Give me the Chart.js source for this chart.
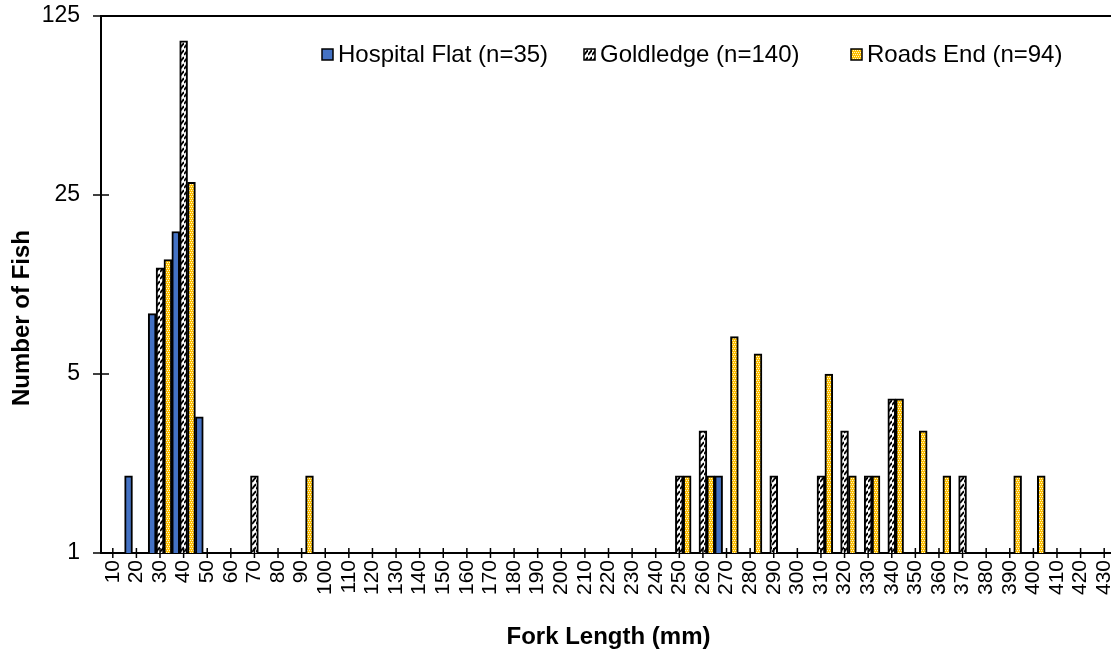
<!DOCTYPE html>
<html>
<head>
<meta charset="utf-8">
<script src="https://cdn.jsdelivr.net/npm/chart.js@4"></script>
<style>
  html, body { margin: 0; padding: 0; background: #fff; overflow: hidden; }
  #wrap { width: 1116px; height: 655px; position: relative; }
</style>
</head>
<body>
<div id="wrap"><canvas id="fishChart"></canvas></div>
<script>
const n = null;

const forkLengths = [10, 20, 30, 40, 50, 60, 70, 80, 90, 100,
  110, 120, 130, 140, 150, 160, 170, 180, 190, 200,
  210, 220, 230, 240, 250, 260, 270, 280, 290, 300,
  310, 320, 330, 340, 350, 360, 370, 380, 390, 400,
  410, 420, 430];

const hospitalFlat = [n, 2, 8.6, 18, 3.4, n, n, n, n, n,
  n, n, n, n, n, n, n, n, n, n,
  n, n, n, n, n, n, 2, n, n, n,
  n, n, n, n, n, n, n, n, n, n,
  n, n, n];

const goldledge = [n, n, 13, 100, n, n, 2, n, n, n,
  n, n, n, n, n, n, n, n, n, n,
  n, n, n, n, 2, 3, n, n, 2, n,
  2, 3, 2, 4, n, n, 2, n, n, n,
  n, n, n];

const roadsEnd = [n, n, 14, 28, n, n, n, n, 2, n,
  n, n, n, n, n, n, n, n, n, n,
  n, n, n, n, 2, 2, 7, 6, n, n,
  5, 2, 2, 4, 3, 2, n, n, 2, 2,
  n, n, n];

const seriesNames = ['Hospital Flat (n=35)', 'Goldledge (n=140)', 'Roads End (n=94)'];
const yTicks = [1, 5, 25, 125];

const FONT = "'Liberation Sans', Arial, sans-serif";

// fill patterns like the Excel ones
function hatchPattern() {
  const c = document.createElement('canvas');
  c.width = 4; c.height = 7;
  const g = c.getContext('2d');
  g.fillStyle = '#fff';
  g.fillRect(0, 0, 4, 7);
  g.strokeStyle = '#000';
  g.lineWidth = 2;
  g.beginPath();
  g.moveTo(0, 6); g.lineTo(4, 1);
  g.stroke();
  return g.createPattern(c, 'repeat');
}

function dotPattern() {
  const c = document.createElement('canvas');
  c.width = 4; c.height = 4;
  const g = c.getContext('2d');
  g.fillStyle = '#FFC000';
  g.fillRect(0, 0, 4, 4);
  g.fillStyle = '#FFF4CC';
  [[0, 0], [2, 0], [1, 2], [3, 2]].forEach(([px, py]) => g.fillRect(px, py, 1, 1));
  return g.createPattern(c, 'repeat');
}

const legendX = [322, 584, 851];

const decorations = {
  id: 'decorations',
  afterDraw(chart) {
    const { ctx, chartArea: a, scales: { x, y } } = chart;
    ctx.save();
    ctx.strokeStyle = '#000';

    // top frame line
    ctx.lineWidth = 2;
    ctx.beginPath();
    ctx.moveTo(a.left, a.top);
    ctx.lineTo(a.right, a.top);
    ctx.stroke();

    // tick marks crossing the axes
    ctx.lineWidth = 1.5;
    y.ticks.forEach((t, i) => {
      const py = y.getPixelForTick(i);
      ctx.beginPath();
      ctx.moveTo(a.left - 8, py);
      ctx.lineTo(a.left + 8, py);
      ctx.stroke();
    });
    x.ticks.forEach((t, i) => {
      const px = x.getPixelForTick(i);
      ctx.beginPath();
      ctx.moveTo(px, a.bottom - 5);
      ctx.lineTo(px, a.bottom + 5);
      ctx.stroke();
    });

    // legend
    ctx.font = '24px ' + FONT;
    ctx.textBaseline = 'middle';
    ctx.textAlign = 'left';
    chart.data.datasets.forEach((ds, i) => {
      const bx = legendX[i];
      ctx.fillStyle = ds.backgroundColor;
      ctx.fillRect(bx, 49, 11, 11);
      ctx.lineWidth = 1.5;
      ctx.strokeRect(bx, 49, 11, 11);
      ctx.fillStyle = '#000';
      ctx.fillText(ds.label, bx + 16, 55);
    });

    // y axis title
    ctx.translate(22, 318);
    ctx.rotate(-Math.PI / 2);
    ctx.font = 'bold 24px ' + FONT;
    ctx.textAlign = 'center';
    ctx.fillText('Number of Fish', 0, 0);
    ctx.restore();
  }
};

document.addEventListener('DOMContentLoaded', () => {
  const fishChart = document.getElementById('fishChart');

  new Chart(fishChart, {
    type: 'bar',
    data: {
      labels: forkLengths,
      datasets: [{
        label: seriesNames[0],
        data: hospitalFlat,
        backgroundColor: '#4472C4',
      }, {
        label: seriesNames[1],
        data: goldledge,
        backgroundColor: hatchPattern(),
      }, {
        label: seriesNames[2],
        data: roadsEnd,
        backgroundColor: dotPattern(),
      }]
    },
    options: {
      responsive: true,
      maintainAspectRatio: false,
      animation: false,
      devicePixelRatio: 1,
      layout: { padding: { top: 16, left: 0, right: 0, bottom: 0 } },
      datasets: {
        bar: {
          borderColor: '#000',
          borderWidth: 2,
          categoryPercentage: 1,
          barPercentage: 1,
        }
      },
      scales: {
        x: {
          grid: { display: true, drawOnChartArea: false, drawTicks: false, offset: false },
          border: { color: '#000', width: 2 },
          ticks: {
            color: '#000',
            font: { family: FONT, size: 21 },
            maxRotation: 90,
            minRotation: 90,
            autoSkip: false,
            padding: 7,
          },
          title: {
            display: true,
            text: 'Fork Length (mm)',
            color: '#000',
            font: { family: FONT, size: 24, weight: 'bold' },
            padding: { top: 0, bottom: 3 },
          },
          afterFit: (s) => {
            s.height = 102;
            s.paddingLeft = 0;
            s.paddingRight = 0;
          }
        },
        y: {
          type: 'logarithmic',
          min: 1,
          max: 125,
          grid: { display: true, drawOnChartArea: false, drawTicks: false },
          border: { color: '#000', width: 2 },
          afterBuildTicks: (s) => { s.ticks = yTicks.map(v => ({ value: v })); },
          ticks: {
            color: '#000',
            font: { family: FONT, size: 23 },
            padding: 21,
            callback: (v) => String(v),
          },
          afterFit: (s) => {
            s.width = 101;
            s.paddingTop = 0;
            s.paddingBottom = 0;
          }
        }
      },
      plugins: {
        legend: { display: false },
        tooltip: { enabled: false }
      }
    },
    plugins: [decorations]
  });
});
</script>
</body>
</html>
